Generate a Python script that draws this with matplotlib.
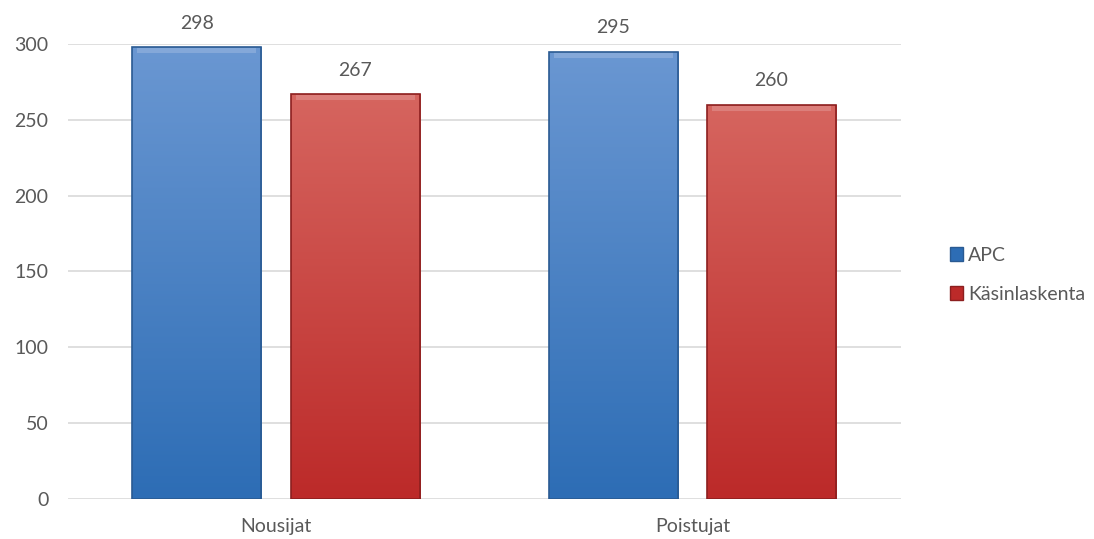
import numpy as np
import matplotlib.pyplot as plt
from matplotlib.colors import LinearSegmentedColormap
from matplotlib.patches import Patch

categories = ['Nousijat', 'Poistujat']
series = ['APC', 'Käsinlaskenta']
apc = [298, 295]
kasin = [267, 260]
yticks = [0, 50, 100, 150, 200, 250, 300]

# top / bottom / edge colours per series
grad = {
    'APC': ('#6a97d2', '#2d6db5', '#2a5a92'),
    'Käsinlaskenta': ('#d6655f', '#bc2a29', '#8c1f1f'),
}

plt.rcParams['font.family'] = ['Lato', 'DejaVu Sans']
txt = '#595959'

fig = plt.figure(figsize=(10.94, 5.39), dpi=100)
ax = fig.add_axes([0.062, 0.0742, 0.7612, 0.8442])

x = np.arange(len(categories))
w = 0.31
off = 0.19

for vals, name, sign in [(apc, 'APC', -1), (kasin, 'Käsinlaskenta', 1)]:
    top, bot, edge = grad[name]
    cmap = LinearSegmentedColormap.from_list(name, [bot, top])
    bars = ax.bar(x + sign * off, vals, w, color='none', edgecolor=edge,
                  linewidth=1.2, zorder=3)
    for b, v in zip(bars, vals):
        x0, y0 = b.get_x(), b.get_y()
        bw, bh = b.get_width(), b.get_height()
        g = np.linspace(0, 1, 256).reshape(-1, 1)
        im = ax.imshow(g, cmap=cmap, origin='lower', aspect='auto',
                       extent=(x0, x0 + bw, y0, y0 + bh), zorder=2)
        im.set_clip_path(b)
        # bevel highlight along the top
        ax.fill_between([x0 + 0.012, x0 + bw - 0.012], y0 + bh - 4, y0 + bh - 0.6,
                        color='white', alpha=0.18, lw=0, zorder=2.5)
        ax.text(x0 + bw / 2, v + 10, str(v), ha='center', va='bottom',
                fontsize=14, color=txt, clip_on=False)

ax.set_xlim(-0.5, 1.5)
ax.set_ylim(0, 300)
ax.set_yticks(yticks)
ax.set_xticks(x)
ax.set_xticklabels(categories)
ax.tick_params(axis='both', length=0, labelsize=14, colors=txt)
ax.tick_params(axis='y', pad=14)
ax.tick_params(axis='x', pad=14)
ax.grid(axis='y', color='#d9d9d9', linewidth=1.2, zorder=0)
for s in ax.spines.values():
    s.set_visible(False)

handles = [Patch(facecolor=grad[n][1], edgecolor=grad[n][2]) for n in series]
fig.legend(handles, series, loc='center left', bbox_to_anchor=(0.852, 0.49),
           frameon=False, fontsize=14, labelcolor=txt, handlelength=0.7,
           handleheight=0.7, handletextpad=0.25, labelspacing=1.15)

fig.savefig('out.png', dpi=100)
